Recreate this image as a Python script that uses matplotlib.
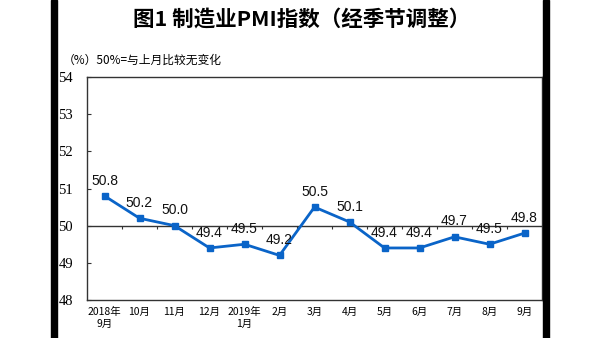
import matplotlib.pyplot as plt
import numpy as np
from matplotlib.patches import Rectangle

plt.rcParams['font.family'] = ['Noto Sans CJK SC', 'DejaVu Sans']

months = ['2018年\n9月', '10月', '11月', '12月', '2019年\n1月', '2月', '3月',
          '4月', '5月', '6月', '7月', '8月', '9月']
pmi = [50.8, 50.2, 50.0, 49.4, 49.5, 49.2, 50.5, 50.1, 49.4, 49.4, 49.7, 49.5, 49.8]
y_ticks = [48, 49, 50, 51, 52, 53, 54]

line_color = '#0a64c8'

fig = plt.figure(figsize=(6, 3.38), dpi=100)
ax = fig.add_axes([87 / 600, 38 / 338, 455 / 600, 223 / 338])

x = np.arange(len(pmi))
ax.plot(x, pmi, color=line_color, lw=2, marker='s', ms=4.5, zorder=3)
for xi, v in zip(x, pmi):
    ax.annotate('{:.1f}'.format(v), (xi, v), xytext=(0, 6), textcoords='offset points',
                ha='center', va='bottom', fontsize=10, family='Liberation Sans', color='#111111')

ax.set_xlim(-0.5, len(pmi) - 0.5)
ax.set_ylim(48, 54)

# 50% reference line with small ticks between months
ax.axhline(50, color='#333333', lw=1, zorder=2)
bounds = np.arange(len(pmi) - 1) + 0.5
ax.vlines(bounds, 50 - 0.08, 50, color='#333333', lw=0.8, zorder=2)

ax.set_xticks(x)
ax.set_xticklabels(months, fontsize=7.5, linespacing=1.3, color='black')
ax.tick_params(axis='x', length=0, pad=5)
ax.set_yticks(y_ticks)
ax.set_yticklabels([str(t) for t in y_ticks], family='Liberation Serif', fontsize=10.5,
                   color='black')
ax.tick_params(axis='y', direction='in', length=3, pad=10, color='#333333')
for s in ax.spines.values():
    s.set_color('#333333')
    s.set_linewidth(1)

fig.text(0.502, 0.944, '图1 制造业PMI指数（经季节调整）', ha='center', va='center',
         fontsize=15.5, fontweight='bold')
fig.text(63 / 600, 1 - 60 / 338, '（%）50%=与上月比较无变化', ha='left', va='center', fontsize=8.5)

# dark side bars of the original page
fig.patches.append(Rectangle((51 / 600, 0), 6 / 600, 1, transform=fig.transFigure,
                             color='black', zorder=10))
fig.patches.append(Rectangle((543 / 600, 0), 6 / 600, 1, transform=fig.transFigure,
                             color='black', zorder=10))

fig.savefig('out.png', dpi=100)
